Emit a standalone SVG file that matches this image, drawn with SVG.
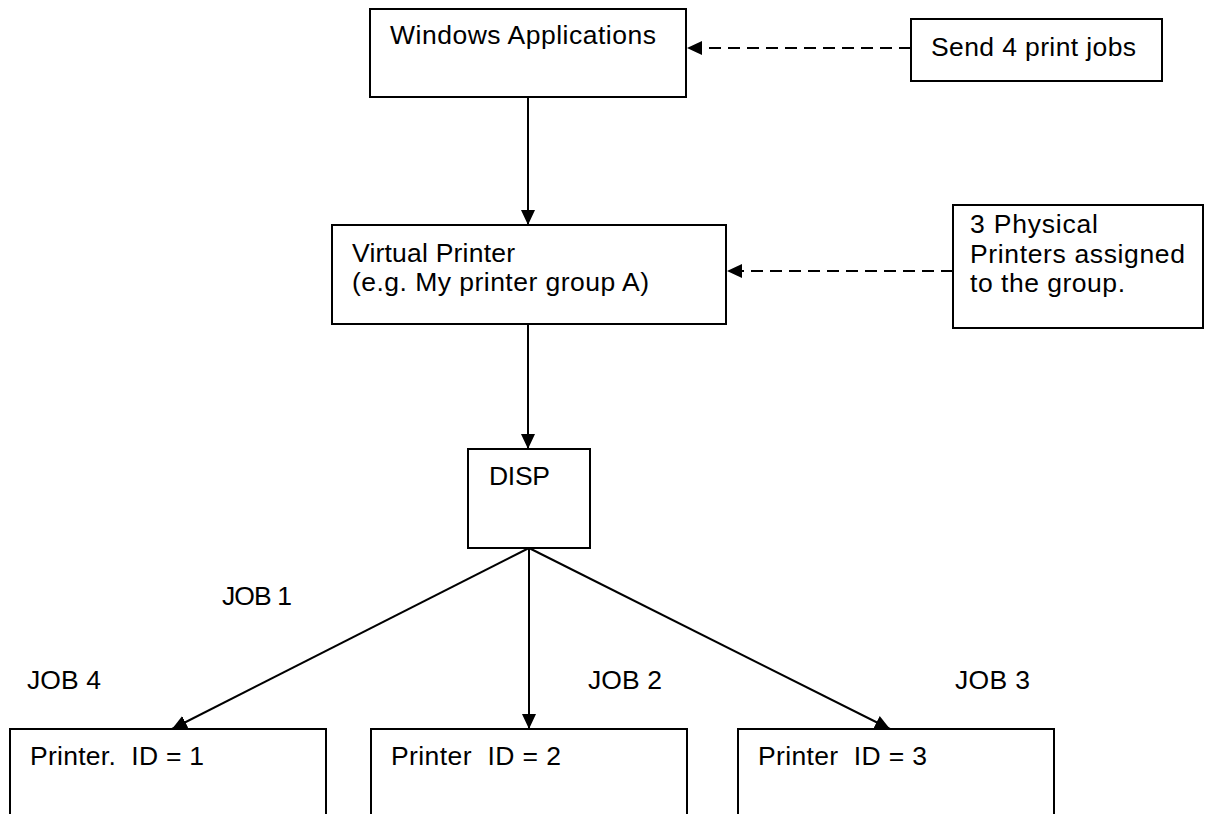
<svg xmlns="http://www.w3.org/2000/svg" width="1209" height="814" viewBox="0 0 1209 814">
<style>
.box{fill:#fff;stroke:#000;stroke-width:2}
.t{font-family:"Liberation Sans",Arial,sans-serif;font-size:26.5px;fill:#000;white-space:pre}
.ln{stroke:#000;stroke-width:2;fill:none}
.dash{stroke-dasharray:12 7}
</style>
<defs>
<marker id="ah2" viewBox="0 0 10 10" refX="10" refY="5" markerWidth="15" markerHeight="14" markerUnits="userSpaceOnUse" orient="auto" preserveAspectRatio="none">
<path d="M0,0 L10,5 L0,10 z" fill="#000"/>
</marker>
</defs>
<g id="winapps"><rect class="box" x="370" y="9" width="316" height="88"/><text class="t" x="390" y="44" textLength="266">Windows Applications</text></g>
<g id="send"><rect class="box" x="911" y="19" width="251" height="62"/><text class="t" x="931" y="56" textLength="205">Send 4 print jobs</text></g>
<g id="virtual"><rect class="box" x="332" y="225" width="394" height="99"/><text class="t" x="352" y="262" textLength="163">Virtual Printer</text><text class="t" x="352" y="291" textLength="297">(e.g. My printer group A)</text></g>
<g id="physical"><rect class="box" x="953" y="205" width="250" height="123"/><text class="t" x="970" y="233" textLength="128">3 Physical</text><text class="t" x="970" y="263" textLength="215">Printers assigned</text><text class="t" x="970" y="292" textLength="155">to the group.</text></g>
<g id="disp"><rect class="box" x="468" y="449" width="122" height="99"/><text class="t" x="489" y="485" textLength="61">DISP</text></g>
<g id="p1"><rect class="box" x="10" y="729" width="316" height="100"/><text class="t" x="30" y="765" textLength="174">Printer.  ID = 1</text></g>
<g id="p2"><rect class="box" x="371" y="729" width="316" height="100"/><text class="t" x="391" y="765" textLength="170">Printer  ID = 2</text></g>
<g id="p3"><rect class="box" x="738" y="729" width="316" height="100"/><text class="t" x="758" y="765" textLength="169">Printer  ID = 3</text></g>
<g id="labels">
<text class="t" x="222" y="605" textLength="70">JOB 1</text>
<text class="t" x="27" y="689" textLength="74">JOB 4</text>
<text class="t" x="588" y="689" textLength="74">JOB 2</text>
<text class="t" x="955" y="689" textLength="75">JOB 3</text>
</g>
<g id="connectors">
<line class="ln dash" x1="911" y1="48" x2="687" y2="48" marker-end="url(#ah2)"/>
<line class="ln dash" x1="953" y1="271" x2="727" y2="271" marker-end="url(#ah2)"/>
<line class="ln" x1="528" y1="97" x2="528" y2="225" marker-end="url(#ah2)"/>
<line class="ln" x1="528" y1="324" x2="528" y2="449" marker-end="url(#ah2)"/>
<line class="ln" x1="529" y1="548" x2="172" y2="729" marker-end="url(#ah2)"/>
<line class="ln" x1="529" y1="548" x2="529" y2="729" marker-end="url(#ah2)"/>
<line class="ln" x1="529" y1="548" x2="890" y2="729" marker-end="url(#ah2)"/>
</g>
</svg>
